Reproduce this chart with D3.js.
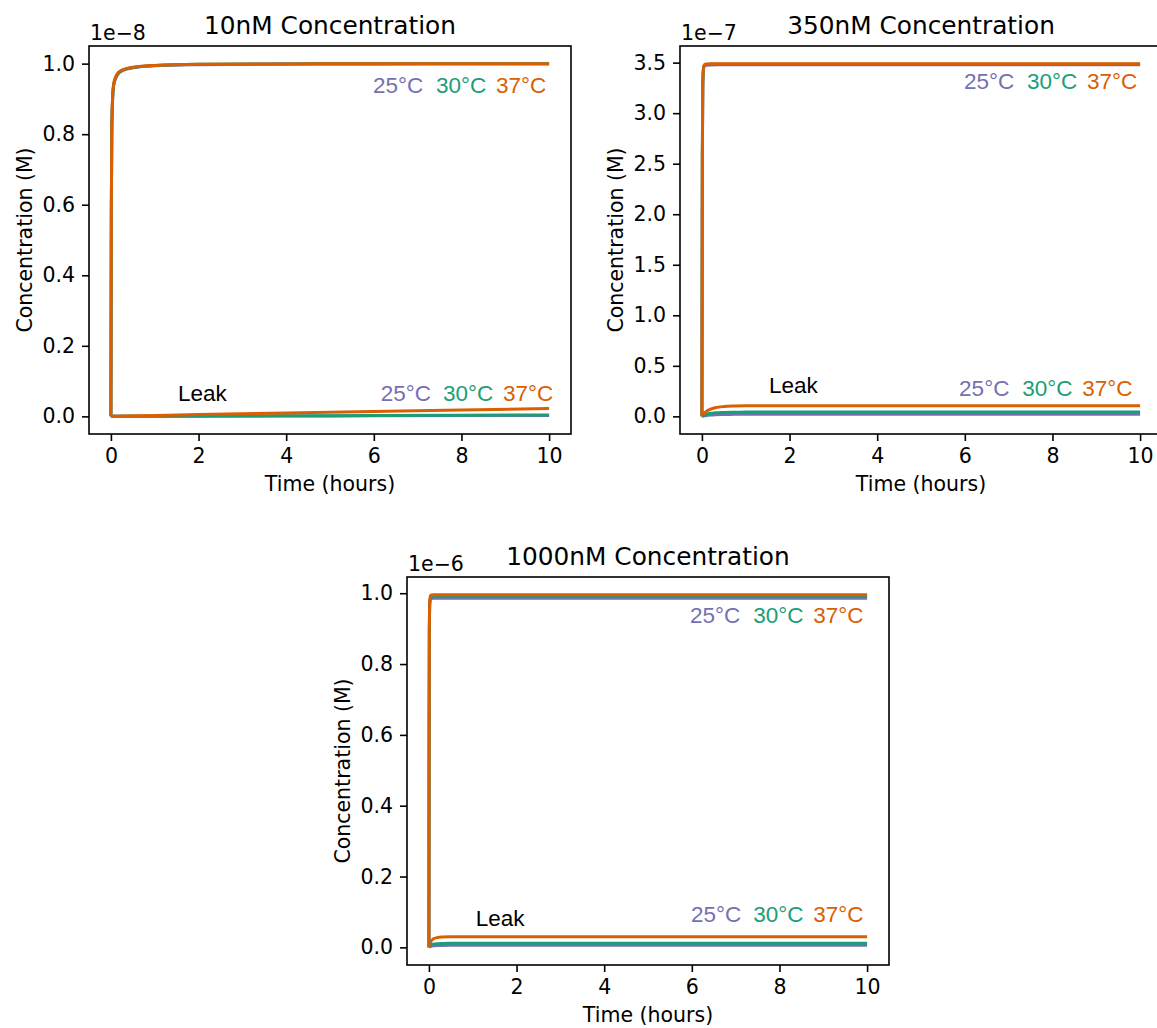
<!DOCTYPE html>
<html>
<head>
<meta charset="utf-8">
<script src="https://cdn.jsdelivr.net/npm/d3@7"></script>
<style>
  html, body { margin: 0; padding: 0; background: #fff; }
  svg { display: block; }
</style>
</head>
<body>
<svg id="chart" width="1157" height="1028"></svg>
<script>
// ---------------- DATA ----------------
const temperatures = ["25°C", "30°C", "37°C"];
const xTicks = [0, 2, 4, 6, 8, 10];

// Panel 1: 10nM (units of 1e-8 M)
const p1MainTime = [0, 0.01, 0.02, 0.04, 0.06, 0.1, 0.15, 0.2, 0.3, 0.5, 1, 2, 4, 6, 8, 10];
const p1Main25 = [0, 0.58, 0.80, 0.90, 0.935, 0.955, 0.968, 0.975, 0.982, 0.988, 0.994, 0.997, 0.999, 0.999, 1.0, 1.0];
const p1Main30 = [0, 0.59, 0.81, 0.905, 0.937, 0.957, 0.970, 0.977, 0.983, 0.989, 0.995, 0.998, 0.999, 1.0, 1.0, 1.0];
const p1Main37 = [0, 0.60, 0.82, 0.91, 0.94, 0.96, 0.972, 0.978, 0.984, 0.990, 0.995, 0.998, 0.999, 1.0, 1.0, 1.0];
const p1LeakTime = [0, 1, 2, 4, 6, 8, 10];
const p1Leak25 = [0, 0.0003, 0.0006, 0.0011, 0.0016, 0.0021, 0.0025];
const p1Leak30 = [0, 0.0004, 0.0008, 0.0016, 0.0025, 0.0033, 0.004];
const p1Leak37 = [0, 0.0025, 0.005, 0.0097, 0.014, 0.018, 0.022];
const p1YTicks = [0, 0.2, 0.4, 0.6, 0.8, 1.0];

// Panel 2: 350nM (units of 1e-7 M)
const p2MainTime = [0, 0.01, 0.02, 0.04, 0.06, 0.1, 0.2, 0.5, 1, 2, 4, 6, 8, 10];
const p2Main25 = [0, 2.55, 3.27, 3.445, 3.468, 3.474, 3.477, 3.478, 3.478, 3.478, 3.478, 3.478, 3.478, 3.478];
const p2Main30 = [0, 2.58, 3.29, 3.455, 3.475, 3.482, 3.484, 3.485, 3.485, 3.485, 3.485, 3.485, 3.485, 3.485];
const p2Main37 = [0, 2.60, 3.30, 3.46, 3.48, 3.487, 3.489, 3.49, 3.49, 3.49, 3.49, 3.49, 3.49, 3.49];
const p2LeakTime = [0, 0.05, 0.1, 0.2, 0.3, 0.5, 0.75, 1, 2, 4, 6, 8, 10];
const p2Leak25 = [0, 0.005, 0.009, 0.014, 0.017, 0.019, 0.020, 0.021, 0.021, 0.021, 0.021, 0.021, 0.021];
const p2Leak30 = [0, 0.012, 0.02, 0.03, 0.035, 0.039, 0.041, 0.042, 0.042, 0.042, 0.042, 0.042, 0.042];
const p2Leak37 = [0, 0.03, 0.05, 0.072, 0.085, 0.097, 0.102, 0.104, 0.105, 0.105, 0.105, 0.105, 0.105];
const p2YTicks = [0, 0.5, 1.0, 1.5, 2.0, 2.5, 3.0, 3.5];

// Panel 3: 1000nM (units of 1e-6 M)
const p3MainTime = [0, 0.005, 0.01, 0.02, 0.04, 0.1, 0.5, 1, 2, 4, 6, 8, 10];
const p3Main25 = [0, 0.58, 0.88, 0.97, 0.984, 0.986, 0.986, 0.986, 0.986, 0.986, 0.986, 0.986, 0.986];
const p3Main30 = [0, 0.59, 0.89, 0.975, 0.989, 0.991, 0.991, 0.991, 0.991, 0.991, 0.991, 0.991, 0.991];
const p3Main37 = [0, 0.60, 0.90, 0.98, 0.994, 0.996, 0.996, 0.996, 0.996, 0.996, 0.996, 0.996, 0.996];
const p3LeakTime = [0, 0.02, 0.05, 0.1, 0.2, 0.3, 0.5, 1, 2, 4, 6, 8, 10];
const p3Leak25 = [0, 0.002, 0.0035, 0.0047, 0.0054, 0.0056, 0.0057, 0.0057, 0.0057, 0.0057, 0.0057, 0.0057, 0.0057];
const p3Leak30 = [0, 0.004, 0.007, 0.009, 0.0105, 0.011, 0.0113, 0.0113, 0.0113, 0.0113, 0.0113, 0.0113, 0.0113];
const p3Leak37 = [0, 0.01, 0.018, 0.024, 0.028, 0.0295, 0.030, 0.030, 0.030, 0.030, 0.030, 0.030, 0.030];
const p3YTicks = [0, 0.2, 0.4, 0.6, 0.8, 1.0];

// ---------------- STYLE / LAYOUT ----------------
const colors = ["#7570b3", "#1b9e77", "#d95f02"];
const axisFont = "'DejaVu Sans', sans-serif";
const annFont = "'Liberation Sans', Arial, Helvetica, sans-serif";

const panels = [
  {
    title: "10nM Concentration", offset: "1e\u22128",
    box: { left: 89, top: 46, width: 482, height: 388 },
    mainT: p1MainTime, main: [p1Main25, p1Main30, p1Main37],
    leakT: p1LeakTime, leak: [p1Leak25, p1Leak30, p1Leak37],
    yTicks: p1YTicks,
    topLabels: { xs: [5.98, 7.42, 8.79], y: 0.916 },
    leakLabels: { leakX: 1.53, leakY: 0.044, xs: [6.16, 7.58, 8.95], y: 0.044 }
  },
  {
    title: "350nM Concentration", offset: "1e\u22127",
    box: { left: 680, top: 46, width: 482, height: 388 },
    mainT: p2MainTime, main: [p2Main25, p2Main30, p2Main37],
    leakT: p2LeakTime, leak: [p2Leak25, p2Leak30, p2Leak37],
    yTicks: p2YTicks,
    topLabels: { xs: [5.98, 7.42, 8.79], y: 3.24 },
    leakLabels: { leakX: 1.53, leakY: 0.234, xs: [5.87, 7.31, 8.68], y: 0.205 }
  },
  {
    title: "1000nM Concentration", offset: "1e\u22126",
    box: { left: 407, top: 577, width: 482, height: 388 },
    mainT: p3MainTime, main: [p3Main25, p3Main30, p3Main37],
    leakT: p3LeakTime, leak: [p3Leak25, p3Leak30, p3Leak37],
    yTicks: p3YTicks,
    topLabels: { xs: [5.96, 7.40, 8.77], y: 0.916 },
    leakLabels: { leakX: 1.07, leakY: 0.060, xs: [5.98, 7.40, 8.77], y: 0.072 }
  }
];

const svg = d3.select("#chart");

panels.forEach(p => {
  const b = p.box;
  const g = svg.append("g").attr("transform", `translate(${b.left},${b.top})`);

  const allVals = [].concat(...p.main, ...p.leak);
  const yMin = d3.min(allVals), yMax = d3.max(allVals);
  const pad = (yMax - yMin) * 0.05;
  const x = d3.scaleLinear().domain([-0.5, 10.5]).range([0, b.width]);
  const y = d3.scaleLinear().domain([yMin - pad, yMax + pad]).range([b.height, 0]);

  const clipId = "clip" + b.left + "_" + b.top;
  g.append("clipPath").attr("id", clipId)
    .append("rect").attr("width", b.width).attr("height", b.height);

  const line = d3.line()
    .x(d => x(d[0])).y(d => y(d[1]))
    .curve(d3.curveMonotoneX);

  const plot = g.append("g").attr("clip-path", `url(#${clipId})`);
  const drawSeries = (T, V, color) => {
    const pts = T.map((t, i) => [t, V[i]]);
    plot.append("path").attr("d", line(pts))
      .attr("fill", "none").attr("stroke", color)
      .attr("stroke-width", 3).attr("stroke-linejoin", "round").attr("stroke-linecap", "butt");
  };
  [0, 1, 2].forEach(i => drawSeries(p.leakT, p.leak[i], colors[i]));
  [0, 1, 2].forEach(i => drawSeries(p.mainT, p.main[i], colors[i]));

  // axes
  const xAxis = d3.axisBottom(x).tickValues(xTicks).tickSize(7).tickPadding(7).tickFormat(d3.format("d"));
  const yAxis = d3.axisLeft(y).tickValues(p.yTicks).tickSize(7).tickPadding(7).tickFormat(d3.format(".1f"));

  const gx = g.append("g").attr("transform", `translate(0,${b.height})`).call(xAxis);
  const gy = g.append("g").call(yAxis);
  [gx, gy].forEach(ax => {
    ax.select(".domain").remove();
    ax.selectAll(".tick line").attr("stroke", "#000").attr("stroke-width", 1.6);
    ax.selectAll(".tick text").attr("fill", "#000")
      .style("font-family", axisFont).style("font-size", "20.5px");
  });

  // frame
  g.append("rect").attr("width", b.width).attr("height", b.height)
    .attr("fill", "none").attr("stroke", "#000").attr("stroke-width", 1.6);

  // titles and labels
  g.append("text").attr("x", b.width / 2).attr("y", -12)
    .attr("text-anchor", "middle").style("font-family", axisFont).style("font-size", "24.8px")
    .text(p.title);
  g.append("text").attr("x", 1).attr("y", -6)
    .style("font-family", axisFont).style("font-size", "20.5px")
    .text(p.offset);
  g.append("text").attr("x", b.width / 2).attr("y", b.height + 57)
    .attr("text-anchor", "middle").style("font-family", axisFont).style("font-size", "20.5px")
    .text("Time (hours)");
  g.append("text").attr("transform", `translate(-57,${b.height / 2}) rotate(-90)`)
    .attr("text-anchor", "middle").style("font-family", axisFont).style("font-size", "20.5px")
    .text("Concentration (M)");

  // annotations
  const ann = (tx, ty, txt, col) => g.append("text")
    .attr("x", x(tx)).attr("y", y(ty)).attr("fill", col)
    .style("font-family", annFont).style("font-size", "22.5px").text(txt);
  temperatures.forEach((t, i) => ann(p.topLabels.xs[i], p.topLabels.y, t, colors[i]));
  ann(p.leakLabels.leakX, p.leakLabels.leakY, "Leak", "#000");
  temperatures.forEach((t, i) => ann(p.leakLabels.xs[i], p.leakLabels.y, t, colors[i]));
});
</script>
</body>
</html>
